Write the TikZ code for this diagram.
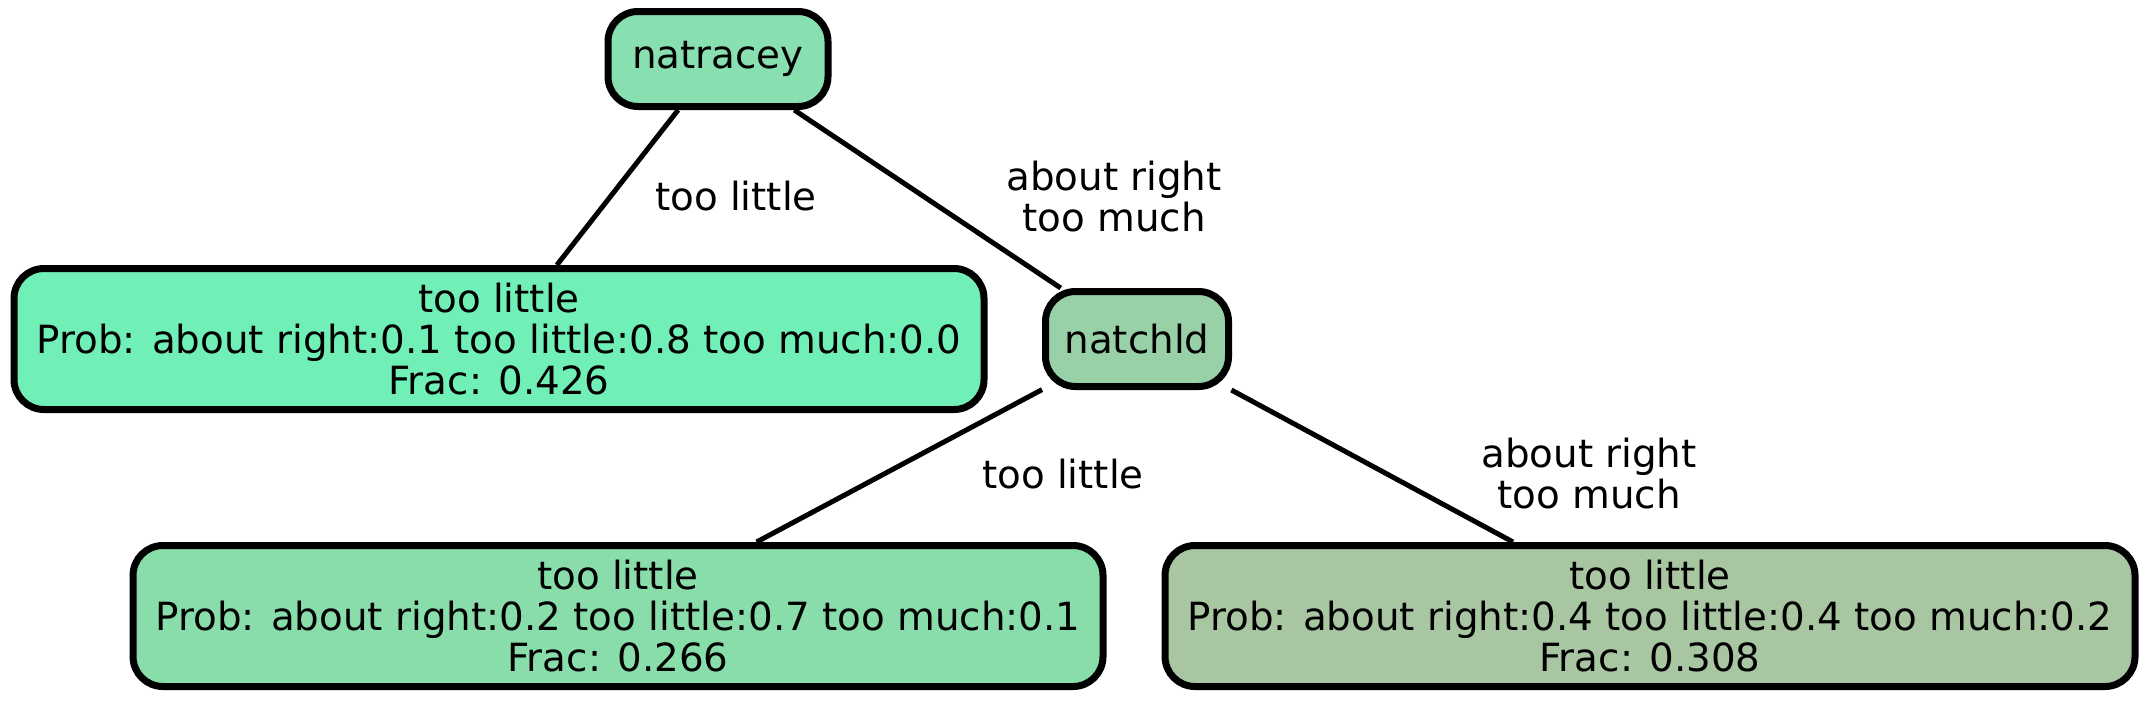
\documentclass[tikz,border=0pt]{standalone}
\usepackage{fontspec}
\setmainfont{DejaVu Sans}
\usepackage{tikz}
\usetikzlibrary{calc}
\definecolor{cTop}{HTML}{88DFAF}
\definecolor{cMid}{HTML}{98D0A8}
\definecolor{cLeafA}{HTML}{70EFB6}
\definecolor{cLeafB}{HTML}{88DDAA}
\definecolor{cLeafC}{HTML}{A8C6A2}
\tikzset{
  tree/.style={draw=black, line width=3.5pt, rounded corners=15pt, inner sep=0pt,
    align=center, font=\fontsize{19.4}{20.5}\selectfont},
  split/.style={tree, minimum height=47.5pt},
  leaf/.style={tree, minimum width=485pt, minimum height=70.5pt},
  edge/.style={draw=black, line width=2.5pt},
  elabel/.style={align=center, inner sep=0pt, font=\fontsize{19.4}{20.5}\selectfont}
}
\newcommand{\leafnode}[6]{\node[leaf, fill=#4] (#1) at (#2, #3) {too little\\Prob: #5\\Frac: #6};}
\begin{document}
\begin{tikzpicture}[x=0.5pt, y=-0.5pt]
        \useasboundingbox (0,0) rectangle (2150,703);

        % splits
        \node[split, fill=cTop, minimum width=110pt] (natracey) at (718, 59) {natracey};
        \node[split, fill=cMid, minimum width=91.5pt] (natchld) at (1137, 339) {natchld};

        % leaves
        \leafnode{leafA}{499}{339}{cLeafA}{about right:0.1 too little:0.8 too much:0.0}{0.426}
        \leafnode{leafB}{618}{616}{cLeafB}{about right:0.2 too little:0.7 too much:0.1}{0.266}
        \leafnode{leafC}{1650}{616}{cLeafC}{about right:0.4 too little:0.4 too much:0.2}{0.308}

        % edges
        \draw[edge] (natracey) -- (leafA);
        \draw[edge] (natracey) -- (natchld);
        \draw[edge] (natchld) -- (leafB);
        \draw[edge] (natchld) -- (leafC);

        \node[elabel] (labA) at (736, 196) {too little};
        \node[elabel] (labB) at (1114, 197) {about right\\too much};
        \node[elabel] (labC) at (1063, 474) {too little};
        \node[elabel] (labD) at (1589, 474) {about right\\too much};
\end{tikzpicture}
\end{document}
